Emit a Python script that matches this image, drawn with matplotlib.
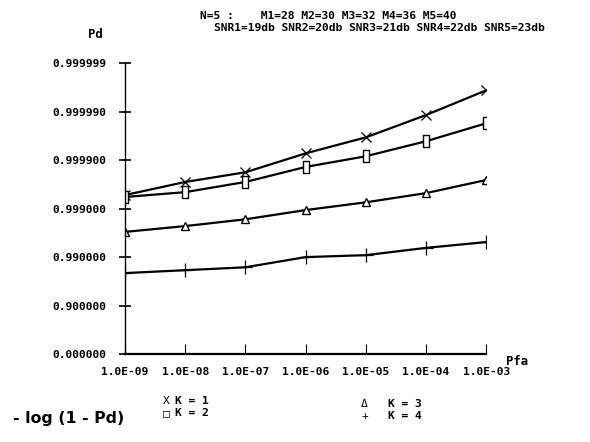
import numpy as np
import matplotlib
matplotlib.use("Agg")
import matplotlib.pyplot as plt

# Pfa decades and -log10(1 - Pd)
Pfa = [1e-9, 1e-8, 1e-7, 1e-6, 1e-5, 1e-4, 1e-3]
PfaLabels = ["1.0E-09", "1.0E-08", "1.0E-07", "1.0E-06", "1.0E-05", "1.0E-04", "1.0E-03"]
K1 = [3.28, 3.55, 3.75, 4.14, 4.47, 4.93, 5.44]
K2 = [3.24, 3.34, 3.55, 3.86, 4.08, 4.39, 4.76]
K3 = [2.52, 2.64, 2.78, 2.97, 3.13, 3.32, 3.59]
K4 = [1.67, 1.73, 1.79, 2.00, 2.04, 2.19, 2.31]
PdTicks = [0, 1, 2, 3, 4, 5, 6]
PdLabels = ["0.000000", "0.900000", "0.990000", "0.999000",
            "0.999900", "0.999990", "0.999999"]

mono = "DejaVu Sans Mono"
fs = 8.1

fig = plt.figure(figsize=(5.9, 4.42), dpi=100)
ax = fig.add_axes([0.212, 0.199, 0.612, 0.658])

# tall box marker like the plotter's square
box = [(-0.5, -1), (0.5, -1), (0.5, 1), (-0.5, 1), (-0.5, -1)]

ax.plot(Pfa, K1, color='k', lw=1.6, marker='x', ms=7, mew=0.9)
ax.plot(Pfa, K2, color='k', lw=1.6, marker=box, ms=9, mew=1.0, mfc='white')
ax.plot(Pfa, K3, color='k', lw=1.6, marker='^', ms=6, mew=1.0, mfc='white')
ax.plot(Pfa, K4, color='k', lw=1.6, marker='+', ms=10, mew=0.9)

ax.set_xscale('log')
ax.set_xlim(1e-9, 1e-3)
ax.set_ylim(0, 6)
ax.minorticks_off()
ax.set_xticks(Pfa)
ax.set_xticklabels(PfaLabels, fontfamily=mono, fontsize=fs)
ax.set_yticks(PdTicks)
ax.set_yticklabels(PdLabels, fontfamily=mono, fontsize=fs)

ax.spines['top'].set_visible(False)
ax.spines['right'].set_visible(False)
ax.spines['left'].set_linewidth(1.0)
ax.spines['bottom'].set_linewidth(1.6)
ax.spines['left'].set_bounds(0, 6)
ax.tick_params(axis='y', direction='inout', length=9, width=1.2, pad=9)
ax.tick_params(axis='x', direction='in', length=7, width=0.8, pad=9)
for lab in ax.get_xticklabels() + ax.get_yticklabels():
    lab.set_fontweight('bold')

# header and axis names
fig.text(0.339, 0.964, "N=5 :    M1=28 M2=30 M3=32 M4=36 M5=40",
         fontfamily=mono, fontsize=fs, fontweight='bold', va='center')
fig.text(0.363, 0.937, "SNR1=19db SNR2=20db SNR3=21db SNR4=22db SNR5=23db",
         fontfamily=mono, fontsize=fs, fontweight='bold', va='center')
fig.text(0.161, 0.921, "Pd", fontfamily=mono, fontsize=fs + 0.7,
         fontweight='bold', ha='center', va='center')
fig.text(0.876, 0.181, "Pfa", fontfamily=mono, fontsize=fs + 0.7,
         fontweight='bold', ha='center', va='center')

# legend below the plot
fig.text(0.022, 0.054, "- log (1 - Pd)", fontfamily="DejaVu Sans",
         fontsize=11.3, fontweight='bold', va='center')
fig.text(0.276, 0.093, "X", fontfamily=mono, fontsize=fs, va='center')
fig.text(0.297, 0.093, "K = 1", fontfamily=mono, fontsize=fs, fontweight='bold', va='center')
fig.text(0.276, 0.066, "\u25a1", fontfamily=mono, fontsize=fs, va='center')
fig.text(0.297, 0.066, "K = 2", fontfamily=mono, fontsize=fs, fontweight='bold', va='center')
fig.text(0.612, 0.086, "\u0394", fontfamily=mono, fontsize=fs, va='center')
fig.text(0.657, 0.086, "K = 3", fontfamily=mono, fontsize=fs, fontweight='bold', va='center')
fig.text(0.612, 0.059, "+", fontfamily=mono, fontsize=fs, va='center')
fig.text(0.657, 0.059, "K = 4", fontfamily=mono, fontsize=fs, fontweight='bold', va='center')

fig.savefig("out.png", dpi=100)
